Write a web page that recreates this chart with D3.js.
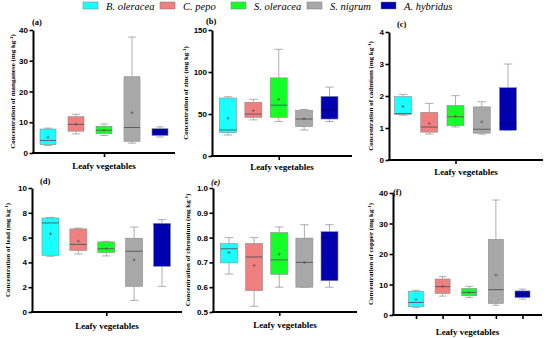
<!DOCTYPE html>
<html lang="en">
<head>
  <meta charset="UTF-8">
  <script src="https://d3js.org/d3.v7.min.js"></script>
  <style>
    body { margin: 0; background: #fff; }
    svg { display: block; font-family: 'Liberation Serif', 'DejaVu Serif', serif; }
    .tick text { font-weight: bold; font-size: 8px; fill: #000; }
    .ylab, .xlab, .ptitle { font-weight: bold; fill: #000; }
  </style>
</head>
<body>
<div id="chart"></div>
<script>
  // species (legend order)
  let species = ['B. oleracea', 'C. pepo', 'S. oleracea', 'S. nigrum', 'A. hybridus']

  // each row: [min, q1, median, q3, max, mean]
  let manganese = [
    [2.4, 2.7, 4.1, 7.8, 8.1, 5.1],
    [6.2, 7.1, 9.3, 11.8, 12.6, 9.4],
    [5.7, 6.3, 7.4, 8.7, 9.4, 7.4],
    [3.2, 3.8, 8.3, 24.8, 37.7, 13.1],
    [5.2, 5.7, 6.9, 7.9, 8.5, 6.8]
  ]
  let zinc = [
    [25, 28, 31, 69, 70.5, 45],
    [43, 46, 50, 64, 67.5, 54],
    [41, 46, 60.5, 93, 127, 67.5],
    [31, 35, 44, 54.5, 55.5, 44.5],
    [41, 44, 55, 71, 82, 56]
  ]
  let cadmium = [
    [1.40, 1.43, 1.45, 1.98, 2.05, 1.67],
    [0.81, 0.87, 1.03, 1.49, 1.77, 1.14],
    [1.03, 1.07, 1.35, 1.70, 2.01, 1.37],
    [0.81, 0.84, 0.96, 1.66, 1.82, 1.19],
    [0.93, 0.93, 1.16, 2.26, 3.00, 1.56]
  ]
  let lead = [
    [4.49, 4.57, 7.18, 7.58, 7.63, 6.30],
    [4.68, 4.97, 5.45, 6.70, 6.77, 5.72],
    [4.52, 4.80, 5.10, 5.65, 5.70, 5.13],
    [0.94, 2.07, 4.90, 5.95, 6.85, 4.20],
    [2.07, 3.68, 7.05, 7.15, 7.45, 5.60]
  ]
  let chromium = [
    [0.653, 0.698, 0.755, 0.776, 0.800, 0.740],
    [0.523, 0.586, 0.722, 0.776, 0.800, 0.688],
    [0.600, 0.652, 0.710, 0.820, 0.843, 0.733],
    [0.600, 0.600, 0.700, 0.798, 0.852, 0.700],
    [0.600, 0.626, 0.800, 0.824, 0.852, 0.720]
  ]
  let copper = [
    [2.4, 2.7, 4.1, 7.8, 8.1, 5.1],
    [6.2, 7.1, 9.3, 11.8, 12.6, 9.4],
    [5.7, 6.3, 7.4, 8.7, 9.4, 7.4],
    [3.2, 3.8, 8.3, 24.8, 37.7, 13.1],
    [5.2, 5.7, 6.9, 7.9, 8.5, 6.8]
  ]

  let colors = ['#1affff', '#f08080', '#14ff28', '#a8a8a8', '#0000b0']
  let colorScale = d3.scaleOrdinal().domain(species).range(colors)

  let svg = d3.select("#chart").append("svg")
          .attr("width", 550).attr("height", 338)

  //Legend
  let legX = [83, 160, 231, 307, 381]
  let legend = svg.append("g").selectAll("g")
          .data(species).join("g")
          .attr("transform", (d, i) => "translate(" + legX[i] + ",0)")
  legend.append("rect")
          .attr("x", 0).attr("y", 2).attr("width", 15).attr("height", 7)
          .attr("fill", d => colorScale(d))
          .attr("stroke", "#777").attr("stroke-width", 0.5)
  legend.append("text")
          .attr("x", 23).attr("y", 10)
          .style("font-style", "italic").style("font-size", "10.5px")
          .text(d => d)

  //Layout of the six panels
  let panels = [
    {title: '(a)', data: manganese, metal: 'manganese', domain: [0, 40], ticks: [0, 10, 20, 30, 40],
      x0: 33, x1: 175, yTop: 30, yBot: 153, pts: [48, 160], bw: 16, tx: 32, ty: 25, xly: 169, ylx: 13},
    {title: '(b)', data: zinc, metal: 'zinc', domain: [0, 150], ticks: [0, 50, 100, 150],
      x0: 212, x1: 352, yTop: 30, yBot: 156, pts: [228, 329.5], bw: 17, tx: 206, ty: 24, xly: 170, ylx: 186},
    {title: '(c)', data: cadmium, metal: 'cadmium', domain: [0, 4], ticks: [0, 1, 2, 3, 4],
      x0: 389, x1: 543, yTop: 32, yBot: 160, pts: [403, 508], bw: 17, tx: 397, ty: 27, xly: 175, ylx: 371},
    {title: '(d)', data: lead, metal: 'lead', domain: [0, 10], ticks: [0, 2, 4, 6, 8, 10],
      x0: 32, x1: 182, yTop: 188, yBot: 312, pts: [50.5, 162], bw: 17, tx: 40, ty: 184, xly: 329, ylx: 8},
    {title: '(e)', data: chromium, metal: 'chromium', domain: [0.5, 1.0], ticks: [0.5, 0.6, 0.7, 0.8, 0.9, 1.0],
      x0: 213, x1: 357, yTop: 188, yBot: 312, pts: [229, 329.5], bw: 17, tx: 211, ty: 185, xly: 328, ylx: 188, fmt: '.1f', italic: true},
    {title: '(f)', data: copper, metal: 'copper', domain: [0, 40], ticks: [0, 10, 20, 30, 40],
      x0: 393, x1: 542, yTop: 193, yBot: 315, pts: [416, 522.5], bw: 15, tx: 393, ty: 195, xly: 335, ylx: 371, allTicks: true}
  ]

  panels.forEach(p => {
    let g = svg.append("g")
    let yScale = d3.scaleLinear().domain(p.domain).range([p.yBot, p.yTop])
    let xScale = d3.scalePoint().domain(species).range(p.pts)

    //boxes
    let boxes = g.selectAll(".box").data(p.data).join("g")
            .attr("transform", (d, i) => "translate(" + xScale(species[i]) + ",0)")
    boxes.append("line")
            .attr("y1", d => yScale(d[0])).attr("y2", d => yScale(d[1]))
            .attr("stroke", "#999").attr("stroke-width", 0.8)
    boxes.append("line")
            .attr("y1", d => yScale(d[3])).attr("y2", d => yScale(d[4]))
            .attr("stroke", "#999").attr("stroke-width", 0.8)
    boxes.append("line")
            .attr("x1", -p.bw / 4).attr("x2", p.bw / 4)
            .attr("y1", d => yScale(d[0])).attr("y2", d => yScale(d[0]))
            .attr("stroke", "#999").attr("stroke-width", 0.8)
    boxes.append("line")
            .attr("x1", -p.bw / 4).attr("x2", p.bw / 4)
            .attr("y1", d => yScale(d[4])).attr("y2", d => yScale(d[4]))
            .attr("stroke", "#999").attr("stroke-width", 0.8)
    boxes.append("rect")
            .attr("x", -p.bw / 2).attr("width", p.bw)
            .attr("y", d => yScale(d[3]))
            .attr("height", d => yScale(d[1]) - yScale(d[3]))
            .attr("fill", (d, i) => colors[i])
            .attr("stroke", "#8a8a8a").attr("stroke-width", 0.6)
    boxes.append("line")
            .attr("x1", -p.bw / 2).attr("x2", p.bw / 2)
            .attr("y1", d => yScale(d[2])).attr("y2", d => yScale(d[2]))
            .attr("stroke", (d, i) => i == 4 ? "#00007a" : "#555").attr("stroke-width", 0.9)
    boxes.append("path")
            .attr("d", d => "M-1.5," + yScale(d[5]) + "h3M0," + (yScale(d[5]) - 1.5) + "v3")
            .attr("stroke", (d, i) => i == 4 ? "#00007a" : "#555").attr("stroke-width", 0.7)

    //y axis
    let yAxis = d3.axisLeft(yScale).tickValues(p.ticks).tickSize(3.5).tickSizeOuter(0)
            .tickFormat(d3.format(p.fmt || "d"))
    let ya = g.append("g").attr("transform", "translate(" + p.x0 + ",0)").call(yAxis)
    ya.select(".domain").attr("stroke-width", 2)
    ya.selectAll(".tick line").attr("stroke-width", 1.6)
    ya.selectAll(".tick text").attr("x", -5)

    //x axis
    g.append("line")
            .attr("x1", p.x0 - 1).attr("x2", p.x1)
            .attr("y1", p.yBot).attr("y2", p.yBot)
            .attr("stroke", "#000").attr("stroke-width", 2)
    let xAxis = d3.axisBottom(xScale).tickSize(4).tickFormat("")
    if (!p.allTicks) xAxis.tickValues([species[2]])
    let xa = g.append("g").attr("transform", "translate(0," + p.yBot + ")").call(xAxis)
    xa.select(".domain").remove()
    xa.selectAll(".tick line").attr("stroke-width", 1.6)

    //labels
    g.append("text").attr("class", "ptitle")
            .attr("x", p.tx).attr("y", p.ty)
            .style("font-size", "8.5px")
            .style("font-style", p.italic ? "italic" : "normal")
            .text(p.title)
    g.append("text").attr("class", "xlab")
            .attr("x", (p.x0 + p.x1) / 2).attr("y", p.xly)
            .attr("text-anchor", "middle")
            .style("font-size", "9px")
            .text("Leafy vegetables")
    let yl = g.append("text").attr("class", "ylab")
            .attr("transform", "translate(" + p.ylx + "," + (p.yTop + p.yBot) / 2 + ") rotate(-90)")
            .attr("text-anchor", "middle")
            .attr("dy", "0.35em")
            .style("font-size", "7px")
    yl.append("tspan").text("Concentration of " + p.metal + " (mg kg")
    yl.append("tspan").attr("dy", "-2.5").style("font-size", "5px").text("-1")
    yl.append("tspan").attr("dy", "2.5").text(")")
  })
</script>
</body>
</html>
